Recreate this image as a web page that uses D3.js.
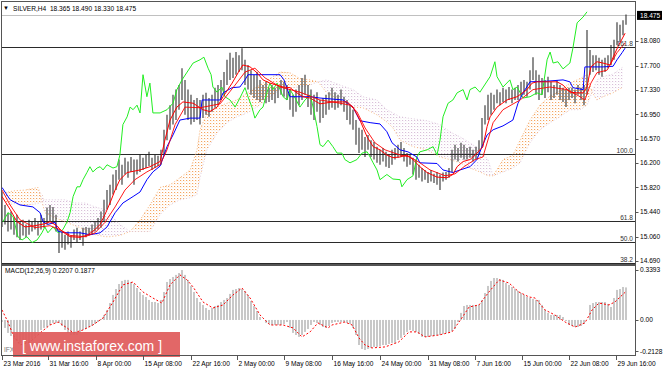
<!DOCTYPE html>
<html><head><meta charset="utf-8">
<script src="https://cdn.jsdelivr.net/npm/d3@7"></script>
<style>
html,body{margin:0;padding:0;background:#fff;}
svg{display:block;font-family:"Liberation Sans",Arial,sans-serif;}
</style></head><body>
<svg id="c" width="664" height="369"></svg>
<script>
// ---------- DATA ----------
const symbolHeader = "SILVER,H4  18.365 18.490 18.330 18.475";
const lastPrice = 18.475;
const highs = [
15.75,15.55,15.43,15.45,15.35,15.40,15.29,15.32,15.25,15.32,
15.29,15.35,15.29,15.40,15.35,15.51,15.55,15.52,15.40,15.17,
15.14,15.09,15.14,15.08,15.17,15.20,15.14,15.20,15.21,15.20,
15.25,15.29,15.35,15.45,15.63,15.78,15.86,16.02,16.09,16.25,
16.17,16.28,16.22,16.29,16.25,16.25,16.32,16.28,16.32,16.37,
16.28,16.32,16.31,16.40,16.71,16.94,17.09,17.25,17.33,17.40,
17.66,17.48,17.33,17.25,17.17,17.20,17.17,17.25,17.28,17.20,
17.25,17.36,17.40,17.48,17.60,17.79,17.90,17.82,17.91,17.86,
17.97,17.79,17.71,17.63,17.56,17.60,17.48,17.40,17.45,17.36,
17.40,17.36,17.40,17.48,17.45,17.40,17.33,17.25,17.33,17.40,
17.51,17.56,17.40,17.33,17.25,17.29,17.17,17.20,17.25,17.29,
17.36,17.29,17.25,17.33,17.22,17.17,17.09,17.02,16.86,16.74,
16.71,16.60,16.63,16.55,16.52,16.45,16.40,16.43,16.37,16.32,
16.40,16.43,16.48,16.52,16.43,16.35,16.32,16.28,16.25,16.17,
16.12,16.09,16.06,16.09,16.03,16.06,16.02,16.05,16.06,16.12,
16.40,16.48,16.43,16.51,16.48,16.43,16.45,16.40,16.45,16.55,
16.89,17.09,17.25,17.28,17.25,17.33,17.29,17.36,17.33,17.37,
17.33,17.36,17.40,17.45,17.48,17.45,17.63,17.83,17.63,17.56,
17.51,17.48,17.53,17.45,17.40,17.48,17.40,17.36,17.33,17.36,
17.36,17.33,17.40,17.36,17.40,18.25,17.94,17.86,17.86,17.82,
17.79,17.82,17.86,18.02,18.10,18.37,18.33,18.40,18.49];
const lows = [
15.21,15.25,15.14,15.17,15.09,15.05,15.01,15.08,15.05,15.09,
15.14,15.17,15.08,15.17,15.20,15.25,15.29,15.26,15.14,14.81,
14.89,14.86,14.94,14.89,15.01,14.98,15.01,14.92,15.05,15.08,
15.09,15.14,15.17,15.20,15.29,15.48,15.55,15.71,15.78,15.94,
15.86,16.02,15.97,16.06,15.86,16.02,16.06,16.09,16.12,16.15,
16.09,16.12,16.15,16.17,16.32,16.55,16.71,16.79,16.86,17.02,
17.17,16.94,16.86,16.79,16.83,16.86,16.79,16.89,16.94,16.91,
16.99,17.05,17.09,17.17,17.25,17.40,17.48,17.51,17.56,17.60,
17.63,17.40,17.33,17.25,17.20,17.17,17.14,17.17,17.12,17.14,
17.17,17.12,17.20,17.25,17.22,17.17,17.02,16.91,16.99,17.09,
17.17,17.25,17.06,16.94,16.86,16.99,16.82,16.89,16.94,17.02,
17.05,17.02,17.05,17.09,16.99,16.86,16.79,16.71,16.48,16.35,
16.40,16.29,16.40,16.29,16.25,16.20,16.17,16.22,16.14,16.12,
16.17,16.25,16.28,16.29,16.22,16.14,16.17,16.02,15.94,15.97,
15.91,15.94,15.89,15.91,15.89,15.86,15.78,15.91,15.94,15.97,
16.06,16.25,16.22,16.28,16.25,16.25,16.28,16.22,16.25,16.32,
16.43,16.79,16.86,16.94,17.02,17.12,17.09,17.14,17.12,17.17,
17.12,17.17,17.17,17.22,17.25,17.22,17.33,17.48,17.25,17.17,
17.25,17.20,17.29,17.17,17.20,17.25,17.17,17.14,17.06,17.17,
17.20,17.12,17.25,17.17,17.09,17.25,17.56,17.60,17.63,17.56,
17.53,17.60,17.66,17.71,17.79,18.02,18.06,18.17,18.33];

// [bar index, price]
const tenkan = [[0,15.68],[2.7,15.48],[5,15.29],[7.7,15.21],[11,15.23],[14.3,15.26],[16,15.29],[18.3,15.23],[20,15.14],[22.7,15.06],[26,15.05],[28.7,15.09],[31,15.17],[32.7,15.25],[34.3,15.40],[36,15.58],[37.7,15.78],[39.3,15.94],[41.7,16.05],[46,16.09],[49.3,16.14],[52.7,16.22],[54.3,16.55],[56,16.86],[58.3,17.06],[60.3,17.14],[63.7,17.12],[67,17.02],[69.3,16.99],[71.7,17.06],[73.7,17.22],[76.7,17.43],[78.7,17.59],[80.3,17.71],[82.7,17.68],[85,17.59],[87,17.48],[89.3,17.43],[91.7,17.40],[93.7,17.37],[96,17.36],[98.3,17.28],[100.3,17.22],[102.7,17.20],[106,17.11],[110.3,17.14],[115,17.14],[117,17.06],[119.3,16.86],[121.7,16.60],[123.7,16.45],[126,16.40],[128.3,16.32],[130.3,16.28],[132.7,16.29],[135,16.32],[137,16.25],[139.3,16.14],[141.7,16.05],[145,15.98],[148.3,15.97],[150.3,16.02],[151.7,16.14],[153.7,16.22],[156,16.25],[158.3,16.35],[160.3,16.45],[161.7,16.76],[162.7,16.91],[165,17.06],[168.3,17.17],[171.7,17.22],[175,17.33],[176.7,17.43],[178.3,17.45],[181.7,17.45],[185,17.45],[187,17.40],[189.3,17.29],[191.7,17.28],[193.7,17.28],[195,17.37],[196.3,17.68],[198.3,17.76],[200.3,17.74],[202.7,17.71],[203.7,17.83],[205.3,17.99],[207.7,18.20]];
const maLine = [[0,15.78],[2.7,15.55],[6,15.32],[11,15.20],[16,15.23],[19.3,15.17],[22.7,15.08],[27.7,15.06],[31,15.12],[34.3,15.28],[37.7,15.52],[41,15.78],[44.3,15.94],[48.3,16.06],[52.7,16.17],[55,16.40],[57.7,16.79],[61,17.06],[66,17.05],[72.7,17.11],[77.7,17.40],[81,17.60],[84.3,17.66],[87.7,17.51],[92.7,17.37],[99.3,17.29],[106,17.17],[112.7,17.12],[116,17.09],[118.3,16.99],[121,16.74],[124.3,16.51],[127.7,16.40],[132.7,16.32],[136,16.29],[139.3,16.20],[142.7,16.09],[147.7,16.00],[151,16.03],[154.3,16.15],[157.7,16.25],[160.3,16.29],[163.7,16.82],[167,17.02],[172.7,17.17],[177,17.33],[182.7,17.37],[188.3,17.33],[192.7,17.22],[194.3,17.17],[196.3,17.43],[198.3,17.59],[201.7,17.63],[205,17.90],[207.7,18.05]];
const kijun = [[0,15.82],[2.7,15.63],[6,15.55],[10.3,15.52],[12.7,15.43],[13.7,15.29],[15.3,15.25],[17.7,15.28],[18.7,15.14],[21.7,15.12],[26,15.12],[29.3,15.09],[32.7,15.12],[35,15.21],[37.7,15.43],[40.3,15.58],[43.7,15.68],[46,15.75],[48.3,15.94],[50.3,16.06],[52.7,16.15],[55,16.45],[57,16.63],[59.3,16.86],[62.7,16.89],[66,16.89],[66.7,17.17],[72.7,17.17],[73.7,17.28],[76.7,17.36],[79.3,17.37],[81,17.48],[82,17.56],[86,17.56],[92.7,17.56],[94,17.48],[96,17.22],[102.7,17.22],[106,17.20],[113.7,17.17],[117,17.06],[119.3,16.85],[122.7,16.82],[126,16.80],[128.3,16.68],[130,16.51],[132.7,16.40],[135.3,16.37],[138.3,16.29],[139.3,16.20],[145,16.19],[147,16.09],[150.3,16.05],[152.7,16.09],[156,16.14],[158.3,16.25],[160,16.45],[161.7,16.63],[163.7,16.71],[167,16.77],[170.3,16.86],[172,17.12],[173.7,17.28],[176,17.45],[181.7,17.46],[187,17.48],[189.3,17.45],[190.3,17.36],[193.7,17.33],[194.3,17.68],[200.3,17.68],[203.7,17.69],[205,17.79],[206.7,17.90],[207.7,17.97]];
const chikou = [[0.3,15.29],[2,15.43],[3.7,15.37],[5.3,15.06],[6.7,15.01],[8.3,15.06],[10,14.97],[11.7,15.01],[13.3,15.12],[14.3,15.21],[15.3,15.12],[17,15.21],[18.7,15.12],[20.3,15.17],[21.7,15.29],[22.7,15.43],[23.7,15.68],[25,15.83],[26,15.83],[27,15.94],[28.3,16.05],[29.3,16.14],[30.3,16.06],[31.7,16.12],[32.7,16.14],[33.7,16.09],[35,16.17],[37,16.12],[38.3,16.14],[39.3,16.32],[40.3,16.79],[41.7,16.91],[42.7,17.06],[43.7,17.02],[45,17.09],[46,16.97],[47,17.56],[48.3,17.22],[49.3,17.43],[50.3,16.97],[52.7,16.97],[55,17.02],[57,17.12],[58.3,17.33],[60,17.48],[61.7,17.60],[63.7,17.74],[66,17.79],[67.3,17.83],[68.7,17.66],[69.7,17.56],[70.3,17.37],[71.7,17.29],[73.3,17.37],[74.3,17.22],[76,17.17],[77.7,17.06],[79.3,17.20],[81,17.36],[82,17.22],[83.3,17.06],[84.3,16.89],[86,17.02],[87,17.06],[88.3,17.28],[89.3,17.43],[90.3,17.33],[91.7,17.43],[92.7,17.33],[93.7,17.22],[95,17.17],[96,17.33],[97.7,17.20],[99.3,17.06],[101,17.17],[102.7,17.25],[103.7,17.06],[105,16.76],[106,16.48],[107,16.45],[108.7,16.55],[110.3,16.45],[111.7,16.35],[113.3,16.35],[114.3,16.25],[116,16.20],[118.3,16.25],[120,16.35],[121.7,16.37],[122.7,16.29],[123.7,16.20],[125,16.09],[126,15.94],[128.3,16.02],[130.3,15.95],[132.7,15.94],[133.3,15.83],[135,15.94],[137,16.00],[138.3,16.29],[139.3,16.37],[141.7,16.40],[143.7,16.45],[145,16.32],[146,16.55],[147,16.91],[148.7,17.12],[150.3,17.17],[151.7,17.28],[153.7,17.33],[155,17.17],[156,17.33],[157.7,17.37],[159.3,17.29],[162.7,17.53],[164.3,17.76],[165,17.53],[167,17.37],[169.3,17.48],[170.3,17.33],[171.7,17.37],[173.7,17.20],[176,17.22],[178.3,17.28],[180,17.25],[181.7,17.79],[182.7,17.91],[183.7,17.74],[185.3,17.76],[187,17.65],[189.3,17.74],[190.3,17.97],[191.7,18.36],[193.7,18.45],[195,18.53]];
// [bar index, Senkou span A, Senkou span B]
const cloud = [[1,15.74,15.55],[4.3,15.77,15.57],[7.7,15.78,15.55],[12,15.82,15.57],[14.3,15.43,15.63],[17.7,15.35,15.63],[21,15.29,15.63],[24.3,15.23,15.58],[27.7,15.17,15.58],[31,15.09,15.52],[34.3,15.06,15.48],[36,15.06,15.40],[39.3,15.08,15.25],[42.7,15.14,15.14],[46,15.32,15.14],[49.3,15.55,15.14],[52.7,15.82,15.40],[56,15.86,15.55],[59.3,15.97,15.63],[62.7,16.09,15.66],[65,16.40,15.71],[66,16.71,15.97],[68.3,16.97,16.40],[71.7,17.06,16.66],[75,17.12,16.82],[78.3,17.17,16.91],[81.7,17.28,16.97],[85,17.37,17.06],[89.3,17.50,17.22],[92.7,17.60,17.33],[96,17.59,17.36],[99.3,17.50,17.37],[102.7,17.48,17.40],[105.3,17.45,17.45],[108.3,17.28,17.48],[112.7,17.17,17.40],[117,17.06,17.33],[120.3,17.05,17.22],[125,16.94,17.17],[128.3,16.83,17.02],[130.3,16.74,16.97],[132.7,16.55,16.91],[137,16.45,16.88],[141.7,16.40,16.85],[146,16.29,16.79],[149.3,16.25,16.68],[152.7,16.20,16.60],[156,16.12,16.51],[159.3,16.06,16.40],[162,16.00,16.25],[163.7,16.00,16.00],[167,16.25,16.06],[170.3,16.32,16.12],[172.7,16.55,16.20],[176,16.86,16.51],[179.3,17.09,16.71],[182.7,17.23,16.82],[186,17.31,16.91],[189.3,17.43,17.02],[192.7,17.50,17.02],[195,17.56,17.09],[196.7,17.29,17.29],[198.3,17.17,17.48],[200.3,17.22,17.53],[203.7,17.28,17.57],[207,17.37,17.68]];

const macdHist = [
-0.014,-0.054,-0.088,-0.109,-0.129,-0.143,-0.156,-0.156,-0.156,-0.149,
-0.129,-0.109,-0.081,-0.068,-0.054,-0.048,-0.034,-0.020,-0.020,-0.020,
-0.041,-0.068,-0.088,-0.102,-0.102,-0.102,-0.088,-0.068,-0.061,-0.048,
-0.041,-0.027,-0.014,0.007,0.034,0.068,0.115,0.170,0.210,0.244,
0.265,0.272,0.272,0.258,0.244,0.217,0.190,0.170,0.156,0.136,
0.122,0.122,0.115,0.136,0.190,0.258,0.278,0.292,0.306,0.319,
0.339,0.306,0.272,0.231,0.190,0.149,0.122,0.102,0.081,0.068,
0.081,0.095,0.102,0.122,0.136,0.149,0.177,0.204,0.210,0.217,
0.210,0.197,0.170,0.129,0.095,0.061,0.020,0.000,-0.020,-0.027,
-0.034,-0.034,-0.034,-0.034,-0.027,-0.014,-0.054,-0.088,-0.102,-0.115,
-0.102,-0.081,-0.061,-0.034,-0.014,-0.020,-0.034,-0.048,-0.054,-0.041,
-0.020,-0.014,-0.014,-0.014,-0.014,-0.020,-0.027,-0.054,-0.102,-0.170,
-0.197,-0.204,-0.197,-0.190,-0.183,-0.183,-0.177,-0.170,-0.170,-0.163,
-0.156,-0.156,-0.136,-0.122,-0.102,-0.081,-0.068,-0.075,-0.081,-0.095,
-0.115,-0.115,-0.115,-0.109,-0.109,-0.102,-0.102,-0.095,-0.088,-0.088,
-0.075,-0.061,-0.014,0.048,0.095,0.102,0.102,0.102,0.102,0.102,
0.136,0.183,0.231,0.265,0.285,0.285,0.278,0.272,0.251,0.238,
0.224,0.210,0.197,0.183,0.170,0.156,0.149,0.143,0.136,0.136,
0.102,0.068,0.048,0.034,0.034,0.034,0.034,0.020,-0.007,-0.034,
-0.041,-0.048,-0.048,-0.041,-0.027,0.000,0.102,0.115,0.122,0.122,
0.122,0.122,0.109,0.088,0.149,0.204,0.210,0.224,0.221];
const macdSignal = [[0,0.068],[2,-0.014],[3.7,-0.102],[6,-0.170],[9.3,-0.149],[12.7,-0.088],[16,-0.034],[18.7,-0.014],[21.7,-0.054],[23.7,-0.088],[27,-0.068],[30.3,-0.034],[33.7,0.014],[37,0.122],[40.3,0.238],[43.7,0.258],[47,0.190],[50.3,0.149],[53.3,0.115],[56,0.238],[59.3,0.306],[61.7,0.272],[63.7,0.224],[67,0.122],[70.3,0.081],[73.7,0.102],[77,0.170],[80,0.217],[82.7,0.149],[86,0.034],[89.3,-0.034],[93.7,-0.034],[97,-0.054],[100,-0.115],[102.7,-0.081],[105.3,-0.020],[108.7,-0.054],[110,-0.034],[114.3,-0.014],[116.7,-0.034],[119,-0.122],[121,-0.170],[123.3,-0.190],[127.7,-0.183],[132.3,-0.149],[135.7,-0.081],[138.3,-0.081],[141,-0.115],[145.7,-0.102],[150,-0.081],[153.3,0.014],[155.7,0.088],[159,0.102],[162.3,0.190],[165.7,0.272],[169,0.251],[172.3,0.190],[175.7,0.156],[177.7,0.149],[181,0.068],[184.3,0.034],[187.7,-0.014],[191,-0.048],[194.3,-0.020],[196.7,0.068],[199,0.115],[202.3,0.102],[204.3,0.122],[207.7,0.188]];
const macdHeader = "MACD(12,26,9) 0.2207 0.1877";

const priceTicks = [18.08,17.70,17.33,16.95,16.57,16.20,15.82,15.44,15.06,14.69];
const macdTicks = [0.3393,0,-0.2128];
const macdTickLabels = ["0.3393","0.00","-0.2128"];
const fibLabels = ["161.8","100.0","61.8","50.0","38.2"];
const fibPrices = [17.995,16.332,15.300,14.973,14.650];
const timeLabels = ["23 Mar 2016","31 Mar 16:00","8 Apr 00:00","15 Apr 08:00","22 Apr 16:00","2 May 00:00","9 May 08:00","16 May 16:00","24 May 00:00","31 May 08:00","7 Jun 16:00","15 Jun 00:00","22 Jun 08:00","29 Jun 16:00"];
const timeIdx = [0,15.33,31.33,47,63,78.33,94,110,126,142,157.67,173.33,189,204.67];

// ---------- DRAWING ----------
const svg = d3.select("#c");
const nBars = highs.length;
const x = d3.scaleLinear().domain([0, nBars-1]).range([2, 626]);
const y = d3.scaleLinear().domain([15.06, 18.08]).range([236.7, 41]);
const ym = d3.scaleLinear().domain([-0.2128, 0.3393]).range([351.3, 270]);
const FS = 6.6;

const defs = svg.append("defs");
defs.append("clipPath").attr("id","cm").append("rect").attr("x",2).attr("y",2).attr("width",633).attr("height",262);
defs.append("clipPath").attr("id","cd").append("rect").attr("x",2).attr("y",266).attr("width",633).attr("height",89);
function mkPattern(id, col){
  const p = defs.append("pattern").attr("id",id).attr("width",3).attr("height",3).attr("patternUnits","userSpaceOnUse");
  p.append("rect").attr("x",0).attr("y",0).attr("width",1.2).attr("height",1).attr("fill",col);
  p.append("rect").attr("x",1.5).attr("y",1.5).attr("width",1).attr("height",0.6).attr("fill",col).attr("opacity",0.45);
}
mkPattern("po","#F4A460");
mkPattern("pl","#D8BFD8");

// main panel
const main = svg.append("g").attr("clip-path","url(#cm)");
main.append("line").attr("x1",2).attr("x2",635).attr("y1",Math.round(y(lastPrice))+0.5).attr("y2",Math.round(y(lastPrice))+0.5).attr("stroke","#c0c0c0");
main.selectAll("line.fib").data(fibPrices).join("line").attr("class","fib")
  .attr("x1",2).attr("x2",635).attr("y1",d=>Math.round(y(d))+0.5).attr("y2",d=>Math.round(y(d))+0.5)
  .attr("stroke","#2a2a2a").attr("stroke-width",1);

// cloud
const areaO = d3.area().x(d=>x(d[0])).y0(d=>y(d[2])).y1(d=>y(Math.max(d[1],d[2])));
const areaL = d3.area().x(d=>x(d[0])).y0(d=>y(d[1])).y1(d=>y(Math.max(d[1],d[2])));
main.append("path").datum(cloud).attr("d",areaO).attr("fill","url(#po)");
main.append("path").datum(cloud).attr("d",areaL).attr("fill","url(#pl)");
main.append("path").datum(cloud).attr("d",d3.line().x(d=>x(d[0])).y(d=>y(d[1]))).attr("fill","none").attr("stroke","#F4A460").attr("stroke-dasharray","1,2").attr("stroke-width",0.8);
main.append("path").datum(cloud).attr("d",d3.line().x(d=>x(d[0])).y(d=>y(d[2]))).attr("fill","none").attr("stroke","#D8BFD8").attr("stroke-dasharray","1,2").attr("stroke-width",0.8);

// candles
main.selectAll("line.bar").data(highs).join("line").attr("class","bar")
  .attr("x1",(d,i)=>x(i)).attr("x2",(d,i)=>x(i))
  .attr("y1",d=>y(d)).attr("y2",(d,i)=>y(lows[i]))
  .attr("stroke","#222").attr("stroke-width",1.2).attr("opacity",0.85);

const pl = d3.line().x(d=>x(d[0])).y(d=>y(d[1]));
main.append("path").datum(chikou).attr("d",pl).attr("fill","none").attr("stroke","#22ee22").attr("stroke-width",1);
main.append("path").datum(kijun).attr("d",pl).attr("fill","none").attr("stroke","#0000ff").attr("stroke-width",1);
main.append("path").datum(maLine).attr("d",pl).attr("fill","none").attr("stroke","#ff0000").attr("stroke-width",0.9);
main.append("path").datum(tenkan).attr("d",pl).attr("fill","none").attr("stroke","#ff0000").attr("stroke-width",1);

// fib labels
svg.selectAll("text.fibl").data(fibLabels).join("text").attr("class","fibl")
  .attr("x",633).attr("y",(d,i)=>Math.round(y(fibPrices[i]))-1.5).attr("text-anchor","end")
  .attr("font-size",FS).attr("fill","#333").text(d=>d);

// header
svg.append("text").attr("x",3).attr("y",10).attr("font-size",6).attr("fill","#000").text("\u25BC");
svg.append("text").attr("x",13).attr("y",10.5).attr("font-size",FS).attr("fill","#000").attr("xml:space","preserve").text(symbolHeader);

// MACD panel
const sub = svg.append("g").attr("clip-path","url(#cd)");
sub.selectAll("rect.h").data(macdHist).join("rect").attr("class","h")
  .attr("x",(d,i)=>x(i)-1).attr("width",2)
  .attr("y",d=>Math.min(ym(d),ym(0))).attr("height",d=>Math.abs(ym(d)-ym(0)))
  .attr("fill","#c8c8c8");
sub.append("path").datum(macdSignal).attr("d",d3.line().x(d=>x(d[0])).y(d=>ym(d[1])))
  .attr("fill","none").attr("stroke","#ff0000").attr("stroke-width",1).attr("stroke-dasharray","2,2");
svg.append("text").attr("x",5).attr("y",273).attr("font-size",FS).attr("fill","#000").text(macdHeader);

// watermark
svg.append("text").attr("x",4).attr("y",352).attr("font-size",FS).attr("fill","#777").text("IFX");
svg.append("rect").attr("x",13).attr("y",332).attr("width",167).attr("height",25).attr("fill","#df5a5a").attr("opacity",0.92);
svg.append("text").attr("x",22).attr("y",351).attr("font-size",14).attr("fill","#fff").attr("xml:space","preserve").text("[ www.instaforex.com ]");

// frames
svg.append("rect").attr("x",1.5).attr("y",1.5).attr("width",634).attr("height",263).attr("fill","none").attr("stroke","#555");
svg.append("rect").attr("x",1.5).attr("y",265.5).attr("width",634).attr("height",90).attr("fill","none").attr("stroke","#555");

// price axis
const pa = svg.append("g");
pa.selectAll("line").data(priceTicks).join("line").attr("x1",635.5).attr("x2",638.5)
  .attr("y1",d=>Math.round(y(d))+0.5).attr("y2",d=>Math.round(y(d))+0.5).attr("stroke","#555");
pa.selectAll("text").data(priceTicks).join("text").attr("x",640).attr("y",d=>y(d)+2.3)
  .attr("font-size",FS).attr("fill","#000").text(d=>d3.format(".3f")(d));
svg.append("rect").attr("x",637).attr("y",y(lastPrice)-4.5).attr("width",25).attr("height",9).attr("fill","#000");
svg.append("text").attr("x",640).attr("y",y(lastPrice)+2.3).attr("font-size",FS).attr("fill","#fff").text(d3.format(".3f")(lastPrice));

// macd axis
const ma = svg.append("g");
ma.selectAll("line").data(macdTicks).join("line").attr("x1",635.5).attr("x2",638.5)
  .attr("y1",d=>Math.round(ym(d))+0.5).attr("y2",d=>Math.round(ym(d))+0.5).attr("stroke","#555");
ma.selectAll("text").data(macdTicks).join("text").attr("x",640).attr("y",d=>ym(d)+2.3)
  .attr("font-size",FS).attr("fill","#000").text((d,i)=>macdTickLabels[i]);

// time axis
const ta = svg.append("g");
ta.selectAll("line").data(timeIdx).join("line").attr("x1",d=>Math.round(x(d))+0.5).attr("x2",d=>Math.round(x(d))+0.5)
  .attr("y1",356).attr("y2",360).attr("stroke","#555");
ta.selectAll("text").data(timeLabels).join("text").attr("x",(d,i)=>x(timeIdx[i])+1.5).attr("y",366)
  .attr("font-size",FS).attr("fill","#000").text(d=>d);
</script>
</body></html>
